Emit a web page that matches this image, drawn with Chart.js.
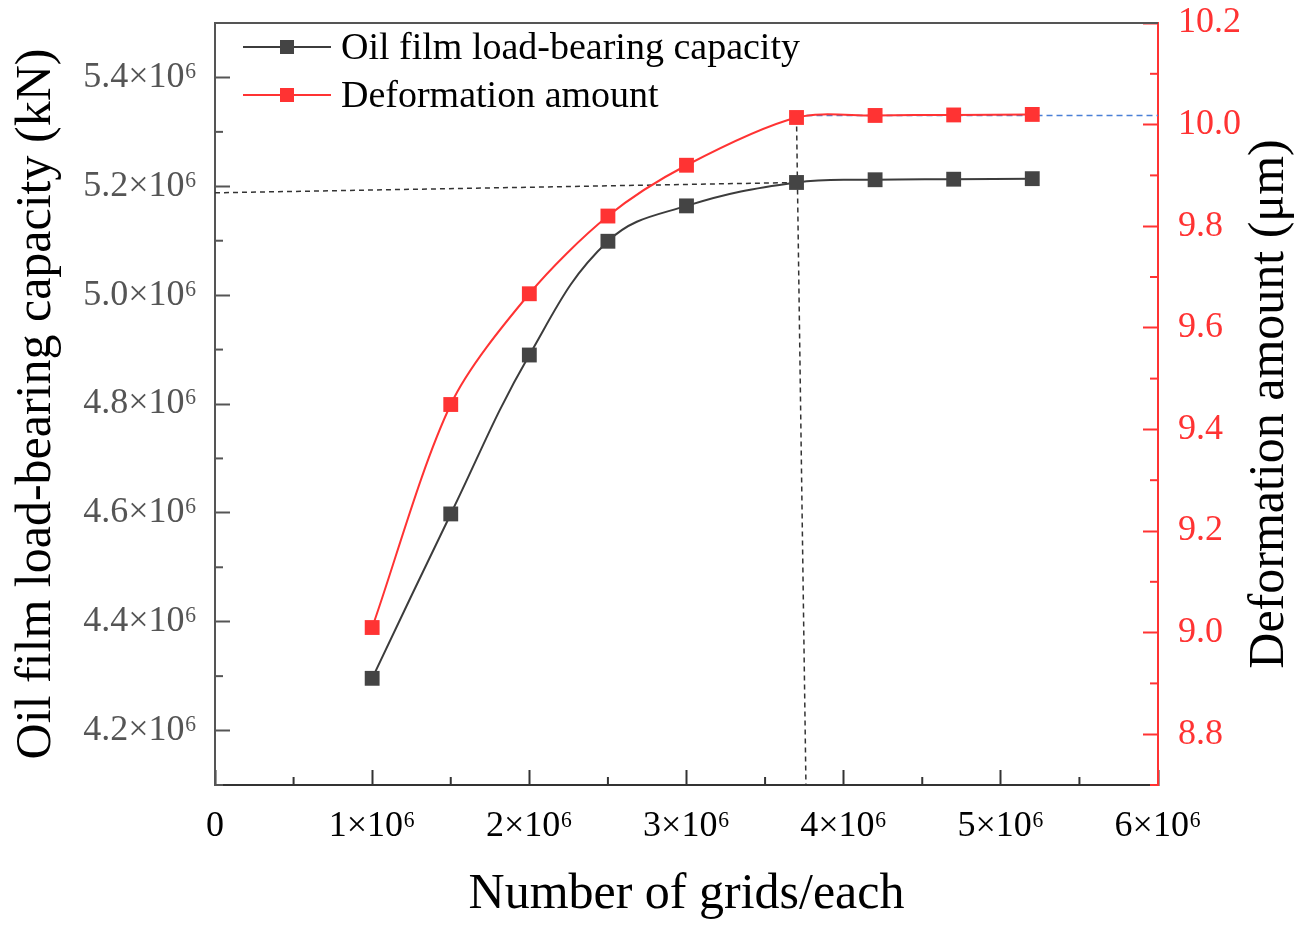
<!DOCTYPE html>
<html>
<head>
<meta charset="utf-8">
<script src="https://cdn.jsdelivr.net/npm/chart.js@4"></script>
<style>
  body { margin: 0; background: #fff; }
  #box { width: 1311px; height: 937px; position: relative; }
</style>
</head>
<body>
<div id="box"><canvas id="myChart"></canvas></div>
<script>
// data
var gridCount = [1e6, 1.5e6, 2e6, 2.5e6, 3e6, 3.7e6, 4.2e6, 4.7e6, 5.2e6];
var loadCapacity = [4.296e6, 4.598e6, 4.890e6, 5.099e6, 5.164e6, 5.207e6, 5.212e6, 5.213e6, 5.214e6];
var deformation = [9.01, 9.449, 9.667, 9.82, 9.92, 10.014, 10.018, 10.019, 10.02];

// dashed guide lines
var loadGuideX = [0, 3.7e6];
var loadGuideY = [5.188e6, 5.207e6];
var vertGuideX = [3.7e6, 3.76e6];
var vertGuideY = [10.014, 8.7];
var deformGuideX = [3.7e6, 6e6];
var deformGuideY = [10.018, 10.018];

// tick values
var xTicks = [0, 1e6, 2e6, 3e6, 4e6, 5e6, 6e6];
var yTicks = [4.2e6, 4.4e6, 4.6e6, 4.8e6, 5.0e6, 5.2e6, 5.4e6];
var y1Ticks = [8.8, 9.0, 9.2, 9.4, 9.6, 9.8, 10.0, 10.2];

var seriesNames = ["Oil film load-bearing capacity", "Deformation amount"];
var xTitle = "Number of grids/each";
var yTitle = "Oil film load-bearing capacity (kN)";
var y1Title = "Deformation amount (\u03bcm)";

var serif = "'Liberation Serif', 'Times New Roman', serif";
var black = "#3c3c3c";
var red = "#ff3333";

function pts(xs, ys){
  var out = [];
  for(var i=0; i<xs.length; i++){
    out.push({x: xs[i], y: ys[i]});
  }
  return out;
}

function fixTicks(list){
  return function(s){
    s.ticks = list.map(function(v){ return {value: v}; });
  };
}

// size the axis boxes by hand, no extra label padding
function fitBox(w, h){
  return function(s){
    if(w !== null) s.width = w;
    if(h !== null) s.height = h;
    s.paddingTop = 0; s.paddingBottom = 0;
    s.paddingLeft = 0; s.paddingRight = 0;
  };
}

// top frame line, minor ticks, legend inside the frame, right title (reads bottom to top)
var extras = {
  id: "extras",
  afterDraw: function(chart){
    var c = chart.ctx;
    var a = chart.chartArea;
    c.save();
    c.strokeStyle = "#555";
    c.lineWidth = 2;
    c.beginPath();
    c.moveTo(a.left - 1, a.top);
    c.lineTo(a.right, a.top);
    c.stroke();

    function minor(scale, list, color, where){
      c.strokeStyle = color;
      c.lineWidth = 2;
      var step = list[1] - list[0];
      for(var i=0; i<=list.length; i++){
        var v = list[0] + (i - 0.5) * step;
        if(v < scale.min - 1e-9 || v > scale.max + 1e-9) continue;
        var p = scale.getPixelForValue(v);
        c.beginPath();
        if(where === "bottom"){ c.moveTo(p, a.bottom); c.lineTo(p, a.bottom - 8); }
        else if(where === "left"){ c.moveTo(a.left, p); c.lineTo(a.left + 8, p); }
        else { c.moveTo(a.right, p); c.lineTo(a.right - 8, p); }
        c.stroke();
      }
    }
    minor(chart.scales.x, xTicks, "#333", "bottom");
    minor(chart.scales.y, yTicks, "#555", "left");
    minor(chart.scales.y1, y1Ticks, red, "right");

    var cols = [[black, "#444"], [red, red]];
    for(var i=0; i<2; i++){
      var ly = a.top + 24 + i*48;
      c.strokeStyle = cols[i][0];
      c.lineWidth = 2;
      c.beginPath();
      c.moveTo(a.left + 28, ly);
      c.lineTo(a.left + 116, ly);
      c.stroke();
      c.fillStyle = cols[i][1];
      c.fillRect(a.left + 65, ly - 7, 14, 14);
      c.fillStyle = "#000";
      c.font = "38px " + serif;
      c.textBaseline = "middle";
      c.textAlign = "left";
      c.fillText(chart.data.datasets[i].label, a.left + 126, ly + 2);
    }

    c.translate(1270, (a.top + a.bottom)/2);
    c.rotate(-Math.PI/2);
    c.fillStyle = "#000";
    c.font = "50px " + serif;
    c.textAlign = "center";
    c.textBaseline = "middle";
    c.fillText(y1Title, 0, 0);
    c.restore();
  }
};

const ctx = document.getElementById("myChart");

const myChart = new Chart(ctx, {
  type: "line",
  data: {
    datasets: [
      {
        label: seriesNames[0],
        data: pts(gridCount, loadCapacity),
        yAxisID: "y",
        borderColor: black,
        backgroundColor: "#444",
        borderWidth: 2,
        pointStyle: "rect",
        pointRadius: 10.5,
        pointBorderWidth: 0,
        tension: 0.4
      },
      {
        label: seriesNames[1],
        data: pts(gridCount, deformation),
        yAxisID: "y1",
        borderColor: red,
        backgroundColor: red,
        borderWidth: 2,
        pointStyle: "rect",
        pointRadius: 10.5,
        pointBorderWidth: 0,
        tension: 0.3
      },
      {
        label: "guide1",
        data: pts(loadGuideX, loadGuideY),
        yAxisID: "y",
        borderColor: "#333",
        borderWidth: 1.5,
        borderDash: [5, 4],
        pointRadius: 0
      },
      {
        label: "guide2",
        data: pts(vertGuideX, vertGuideY),
        yAxisID: "y1",
        borderColor: "#333",
        borderWidth: 1.5,
        borderDash: [5, 4],
        pointRadius: 0
      },
      {
        label: "guide3",
        data: pts(deformGuideX, deformGuideY),
        yAxisID: "y1",
        borderColor: "#4a7fd6",
        borderWidth: 1.5,
        borderDash: [6, 4],
        pointRadius: 0
      }
    ]
  },
  options: {
    responsive: true,
    maintainAspectRatio: false,
    animation: false,
    layout: { padding: { top: 23, left: 0, right: 0, bottom: 0 } },
    plugins: {
      legend: { display: false },
      tooltip: { enabled: false }
    },
    scales: {
      x: {
        type: "linear",
        position: "bottom",
        min: 0,
        max: 6e6,
        afterBuildTicks: fixTicks(xTicks),
        afterFit: fitBox(null, 152),
        border: { color: "#333", width: 2 },
        grid: { drawOnChartArea: false, drawTicks: true, tickLength: -15, tickColor: "#333", tickWidth: 2 },
        ticks: {
          padding: 35,
          color: "#000",
          font: { family: serif, size: 36 },
          maxRotation: 0,
          callback: function(v){ return v === 0 ? "0" : (v/1e6) + "\u00d710\u2076"; }
        },
        title: { display: true, text: xTitle, color: "#000", font: { family: serif, size: 50 }, padding: { top: 0, bottom: 12 } }
      },
      y: {
        type: "linear",
        position: "left",
        min: 4.1e6,
        max: 5.5e6,
        afterBuildTicks: fixTicks(yTicks),
        afterFit: fitBox(215, null),
        border: { color: "#555", width: 2 },
        grid: { drawOnChartArea: false, drawTicks: true, tickLength: -15, tickColor: "#555", tickWidth: 2 },
        ticks: {
          padding: 33,
          color: "#555",
          font: { family: serif, size: 36 },
          callback: function(v){ return (v/1e6).toFixed(1) + "\u00d710\u2076"; }
        },
        title: { display: true, text: yTitle, color: "#000", font: { family: serif, size: 50 }, padding: { top: 7, bottom: 0 } }
      },
      y1: {
        type: "linear",
        position: "right",
        min: 8.7,
        max: 10.2,
        afterBuildTicks: fixTicks(y1Ticks),
        afterFit: fitBox(153, null),
        border: { color: red, width: 2 },
        grid: { drawOnChartArea: false, drawTicks: true, tickLength: -15, tickColor: red, tickWidth: 2 },
        ticks: {
          padding: 35,
          color: red,
          font: { family: serif, size: 36 },
          callback: function(v){ return v.toFixed(1); }
        }
      }
    }
  },
  plugins: [extras]
});
</script>
</body>
</html>
